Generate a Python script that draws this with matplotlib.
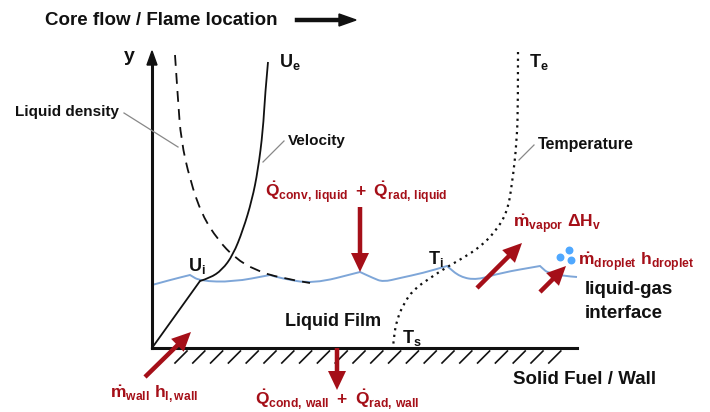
import numpy as np
import matplotlib.pyplot as plt
from matplotlib.path import Path
from matplotlib.patches import PathPatch

plt.rcParams['font.family'] = ['Liberation Sans', 'DejaVu Sans']
plt.rcParams['font.weight'] = 'bold'
plt.rcParams['mathtext.fontset'] = 'custom'
plt.rcParams['mathtext.rm'] = 'Liberation Sans:bold'
plt.rcParams['mathtext.it'] = 'Liberation Sans:bold'
plt.rcParams['mathtext.bf'] = 'Liberation Sans:bold'

RED = '#a50f18'
BLUE = '#7ea6d8'
DROP = '#4fa8ff'
INK = '#111111'

# profiles (pixel coords, y down)
density_x = [175, 178, 181, 190, 202, 218, 235, 255, 280, 310]
density_y = [55, 100, 140, 180, 215, 240, 258, 270, 278, 283]

velocity_x = [268, 265, 263, 258, 252, 243, 233, 222, 210, 200]
velocity_y = [62, 95, 130, 170, 200, 230, 255, 270, 278, 281]
velocity_wall_x = [200, 152]
velocity_wall_y = [281, 348]

temp_x = [518, 518, 517, 512, 507, 495, 480, 463, 447, 430, 413, 403, 397, 394, 393]
temp_y = [52, 100, 140, 185, 213, 232, 247, 258, 267, 278, 290, 305, 320, 335, 348]

# interface; repeated points are the sharp crests of the sketch
iface_x = [152, 170, 190, 190, 200, 233, 270, 270, 280, 313, 360, 360, 373, 383,
           400, 423, 447, 447, 460, 477, 500, 540, 540, 550, 577]
iface_y = [285, 280, 275, 275, 281, 282, 275, 275, 278, 284, 272, 272, 278, 282,
           278, 273, 266, 266, 277, 280, 273, 266, 266, 275, 277]

drop_x = [560, 569, 571]
drop_y = [257, 250, 260]

# red flux arrows: (tail x, tail y, tip x, tip y)
flux_arrows = [
    (360, 207, 360, 272),
    (477, 288, 522, 243),
    (540, 292, 566, 266),
    (145, 377, 191, 332),
    (337, 348, 337, 390),
]


def smooth_curve(ax, xs, ys, **kw):
    # quadratic b-spline: read points act as control points
    pts = np.column_stack([xs, ys]).astype(float)
    verts = [pts[0]]
    codes = [Path.MOVETO]
    for i in range(1, len(pts) - 1):
        end = pts[i + 1] if i == len(pts) - 2 else (pts[i] + pts[i + 1]) / 2
        verts += [pts[i], end]
        codes += [Path.CURVE3, Path.CURVE3]
    ax.add_patch(PathPatch(Path(verts, codes), fill=False, **kw))


fig = plt.figure(figsize=(7.1, 4.12), dpi=100)
ax = fig.add_axes([0, 0, 1, 1])
ax.set_xlim(0, 710)
ax.set_ylim(412, 0)
ax.set_aspect('equal')
ax.axis('off')

# axes of the sketch
ax.plot([152, 152], [348, 62], color=INK, lw=2.2)
ax.arrow(152, 64, 0, -13, width=0.5, head_width=10, head_length=14,
         length_includes_head=True, color=INK)
ax.plot([152, 577], [348, 348], color=INK, lw=2.2)
for hx in np.arange(175, 566, 17.8):
    ax.plot([hx, hx + 12], [363, 351], color=INK, lw=1.2)

ax.plot([297, 342], [20, 20], color=INK, lw=3.2)
ax.arrow(338, 20, 18, 0, width=0.5, head_width=12, head_length=17,
         length_includes_head=True, color=INK)

# profiles
smooth_curve(ax, iface_x, iface_y, edgecolor=BLUE, lw=1.4)
smooth_curve(ax, density_x, density_y, edgecolor=INK, lw=1.3, ls=(0, (6, 4)))
smooth_curve(ax, velocity_x, velocity_y, edgecolor=INK, lw=1.3)
ax.plot(velocity_wall_x, velocity_wall_y, color=INK, lw=1.3)
smooth_curve(ax, temp_x, temp_y, edgecolor=INK, lw=1.6, ls=(0, (1, 2)))
ax.scatter(drop_x, drop_y, s=22, color=DROP, zorder=5)

for x0, y0, x1, y1 in flux_arrows:
    ax.arrow(x0, y0, x1 - x0, y1 - y0, width=4.5, head_width=18, head_length=19,
             length_includes_head=True, color=RED, lw=0, zorder=6)

# leader lines
ax.plot([124, 178], [113, 147], color='#888888', lw=0.9)
ax.plot([263, 284], [162, 141], color='#888888', lw=0.9)
ax.plot([519, 534], [160, 145], color='#888888', lw=0.9)

# labels
ax.text(45, 20, 'Core flow / Flame location', fontsize=13.5, va='center', color=INK)
ax.text(124, 56, 'y', fontsize=14, va='center', color=INK)
ax.text(279, 62, r'$\mathrm{U}_{\mathrm{e}}$', fontsize=13, va='center', color=INK)
ax.text(529, 62, r'$\mathrm{T}_{\mathrm{e}}$', fontsize=13, va='center', color=INK)
ax.text(15, 112, 'Liquid density', fontsize=11, va='center', color=INK)
ax.text(288, 141, 'Velocity', fontsize=11, va='center', color=INK)
ax.text(538, 145, 'Temperature', fontsize=11.5, va='center', color=INK)
ax.text(188, 266, r'$\mathrm{U}_{\mathrm{i}}$', fontsize=13, va='center', color=INK)
ax.text(428, 259, r'$\mathrm{T}_{\mathrm{i}}$', fontsize=13, va='center', color=INK)
ax.text(402, 338, r'$\mathrm{T}_{\mathrm{s}}$', fontsize=13, va='center', color=INK)
ax.text(285, 322, 'Liquid Film', fontsize=13, va='center', color=INK)
ax.text(585, 289, 'liquid-gas', fontsize=13.5, va='center', color=INK)
ax.text(585, 313, 'interface', fontsize=13.5, va='center', color=INK)
ax.text(513, 380, 'Solid Fuel / Wall', fontsize=13.5, va='center', color=INK)

ax.text(265, 193, r'$\dot{\mathrm{Q}}_{\mathrm{conv,\,liquid}}\ +\ \dot{\mathrm{Q}}_{\mathrm{rad,\,liquid}}$',
        fontsize=12.5, va='center', color=RED)
ax.text(513, 224, r'$\dot{\mathrm{m}}_{\mathrm{vapor}}\ \Delta\mathrm{H}_{\mathrm{v}}$',
        fontsize=12.5, va='center', color=RED)
ax.text(578, 262, r'$\dot{\mathrm{m}}_{\mathrm{droplet}}\ \mathrm{h}_{\mathrm{droplet}}$',
        fontsize=12.5, va='center', color=RED)
ax.text(110, 394, r'$\dot{\mathrm{m}}_{\mathrm{wall}}\ \mathrm{h}_{\mathrm{l,wall}}$',
        fontsize=12.5, va='center', color=RED)
ax.text(255, 400, r'$\dot{\mathrm{Q}}_{\mathrm{cond,\,wall}}\ +\ \dot{\mathrm{Q}}_{\mathrm{rad,\,wall}}$',
        fontsize=12.5, va='center', color=RED)

fig.savefig('out.png', dpi=100)
